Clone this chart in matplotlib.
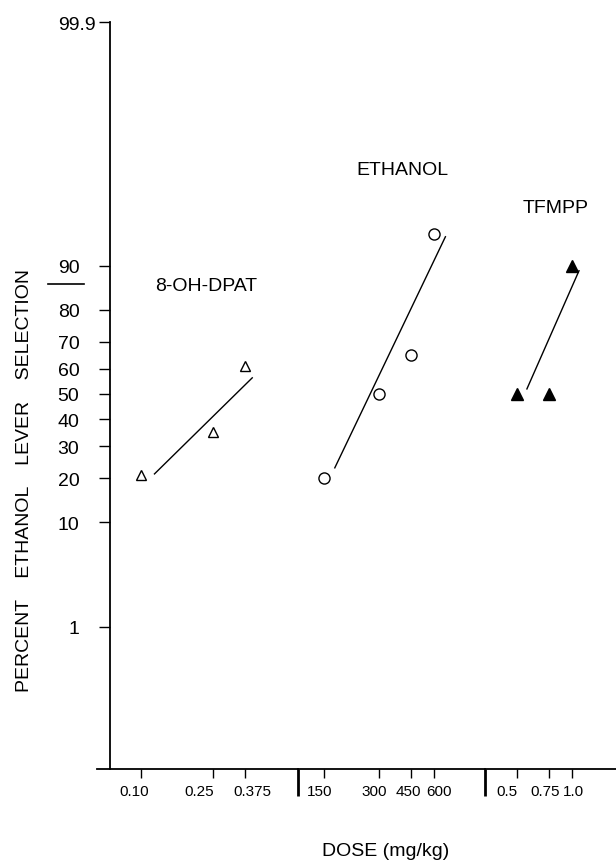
import matplotlib
matplotlib.use('Agg')
import matplotlib.pyplot as plt
import matplotlib.transforms as mtransforms
import numpy as np
from statistics import NormalDist

plt.rcParams['font.family'] = ['Liberation Sans', 'DejaVu Sans']

# --- data (dose in mg/kg, percent ethanol-lever selection)
dpat_dose = [0.10, 0.25, 0.375]
dpat_pct = [21, 35, 61]
dpat_fit_dose = [0.119, 0.41]
dpat_fit_pct = [21.2, 56.4]

eth_dose = [150, 300, 450, 600]
eth_pct = [20, 50, 65, 94.5]
eth_fit_dose = [172, 697]
eth_fit_pct = [23, 94.2]

tfmpp_dose = [0.5, 0.75, 1.0]
tfmpp_pct = [50, 50, 90]
tfmpp_fit_dose = [0.567, 1.096]
tfmpp_fit_pct = [52, 89.1]

dpat_ticks = [0.10, 0.25, 0.375]
dpat_ticklabels = ['0.10', '0.25', '0.375']
eth_ticks = [150, 300, 450, 600]
eth_ticklabels = ['150', '300', '450', '600']
tfmpp_ticks = [0.5, 0.75, 1.0]
tfmpp_ticklabels = ['0.5', '0.75', '1.0']

y_ticks = [1, 10, 20, 30, 40, 50, 60, 70, 80, 90, 99.99]
y_ticklabels = ['1', '10', '20', '30', '40', '50', '60', '70', '80', '90', '99.9']

# probit (normal probability) scale for the y axis
nd = NormalDist()
_ppf = np.vectorize(lambda p: nd.inv_cdf(min(max(p / 100.0, 1e-12), 1 - 1e-12)),
                    otypes=[float])
_cdf = np.vectorize(lambda z: nd.cdf(z) * 100.0, otypes=[float])


def probit(p):
    return _ppf(np.asarray(p, dtype=float))


def unprobit(z):
    return _cdf(np.asarray(z, dtype=float))


W, H = 616, 862
fig = plt.figure(figsize=(W / 100, H / 100), dpi=100)


def nudge(label, dx_px):
    # shift a tick label sideways by some pixels, as the hand-lettered original does
    off = mtransforms.ScaledTranslation(dx_px / 100, 0, fig.dpi_scale_trans)
    label.set_transform(label.get_transform() + off)


bottom = 92 / H
height = 747 / H
ax1 = fig.add_axes([97 / W, bottom, 201 / W, height])
ax2 = fig.add_axes([298 / W, bottom, 187 / W, height])
ax3 = fig.add_axes([485 / W, bottom, 131 / W, height])

ylim = (float(unprobit(-3.75)), 99.99)
xlims = [(0.0575, 0.7316), (108, 1150), (0.3337, 1.75)]

for ax, xl in zip([ax1, ax2, ax3], xlims):
    ax.set_xscale('log')
    ax.set_yscale('function', functions=(probit, unprobit))
    ax.set_xlim(xl)
    ax.set_ylim(ylim)
    ax.patch.set_alpha(0)
    for s in ['top', 'right']:
        ax.spines[s].set_visible(False)
    ax.spines['bottom'].set_linewidth(1.3)
    ax.xaxis.set_minor_locator(matplotlib.ticker.NullLocator())
    ax.yaxis.set_minor_locator(matplotlib.ticker.NullLocator())
    ax.tick_params(axis='x', direction='out', length=6.5, width=1, pad=4, labelsize=11)

ax1.spines['left'].set_position(('axes', 13 / 201))
ax1.spines['left'].set_linewidth(1.3)
ax1.set_yticks(y_ticks)
ax1.set_yticklabels(y_ticklabels)
ax1.tick_params(axis='y', direction='out', length=8, width=1, pad=14, labelsize=14)
nudge(ax1.get_yticklabels()[-1], 16)

for ax in [ax2, ax3]:
    ax.spines['left'].set_visible(False)
    ax.set_yticks([])

ax1.set_xticks(dpat_ticks)
ax1.set_xticklabels(dpat_ticklabels)
ax2.set_xticks(eth_ticks)
ax2.set_xticklabels(eth_ticklabels)
ax3.set_xticks(tfmpp_ticks)
ax3.set_xticklabels(tfmpp_ticklabels)

for ax, shifts in [(ax1, [-7, -14, 7]), (ax2, [-4, -5, -2, 5]), (ax3, [-10, -4, 2])]:
    for lab, dx in zip(ax.get_xticklabels(), shifts):
        nudge(lab, dx)

# long break marks between the dose segments
for ax in [ax2, ax3]:
    ax.plot([0, 0], [0, -27 / 747], transform=ax.transAxes, color='black',
            lw=2, clip_on=False, solid_capstyle='butt')

# short stray dash beside the 90 label
ax1.plot([-49 / 201, -13 / 201], [485 / 747, 485 / 747], transform=ax1.transAxes,
         color='black', lw=1.2, clip_on=False)

# 8-OH-DPAT
ax1.plot(dpat_dose, dpat_pct, linestyle='none', marker='^', markersize=7.5,
         markerfacecolor='white', markeredgecolor='black', markeredgewidth=1)
ax1.plot(dpat_fit_dose, dpat_fit_pct, color='black', lw=1)
ax1.text(0.12, 86.2, '8-OH-DPAT', fontsize=14, ha='left', va='center')

# ethanol
ax2.plot(eth_dose, eth_pct, linestyle='none', marker='o', markersize=8,
         markerfacecolor='white', markeredgecolor='black', markeredgewidth=1)
ax2.plot(eth_fit_dose, eth_fit_pct, color='black', lw=1)
ax2.text(225, 98.75, 'ETHANOL', fontsize=14, ha='left', va='center')

# TFMPP
ax3.plot(tfmpp_dose, tfmpp_pct, linestyle='none', marker='^', markersize=8,
         color='black')
ax3.plot(tfmpp_fit_dose, tfmpp_fit_pct, color='black', lw=1)
ax3.text(0.54, 96.86, 'TFMPP', fontsize=14, ha='left', va='center')

fig.text(25 / W, 1 - 481 / H, 'PERCENT    ETHANOL    LEVER    SELECTION',
         rotation=90, ha='center', va='center', fontsize=14)
fig.text(386 / W, 1 - 852 / H, 'DOSE (mg/kg)', ha='center', va='center', fontsize=14)

fig.savefig('out.png', dpi=100)
